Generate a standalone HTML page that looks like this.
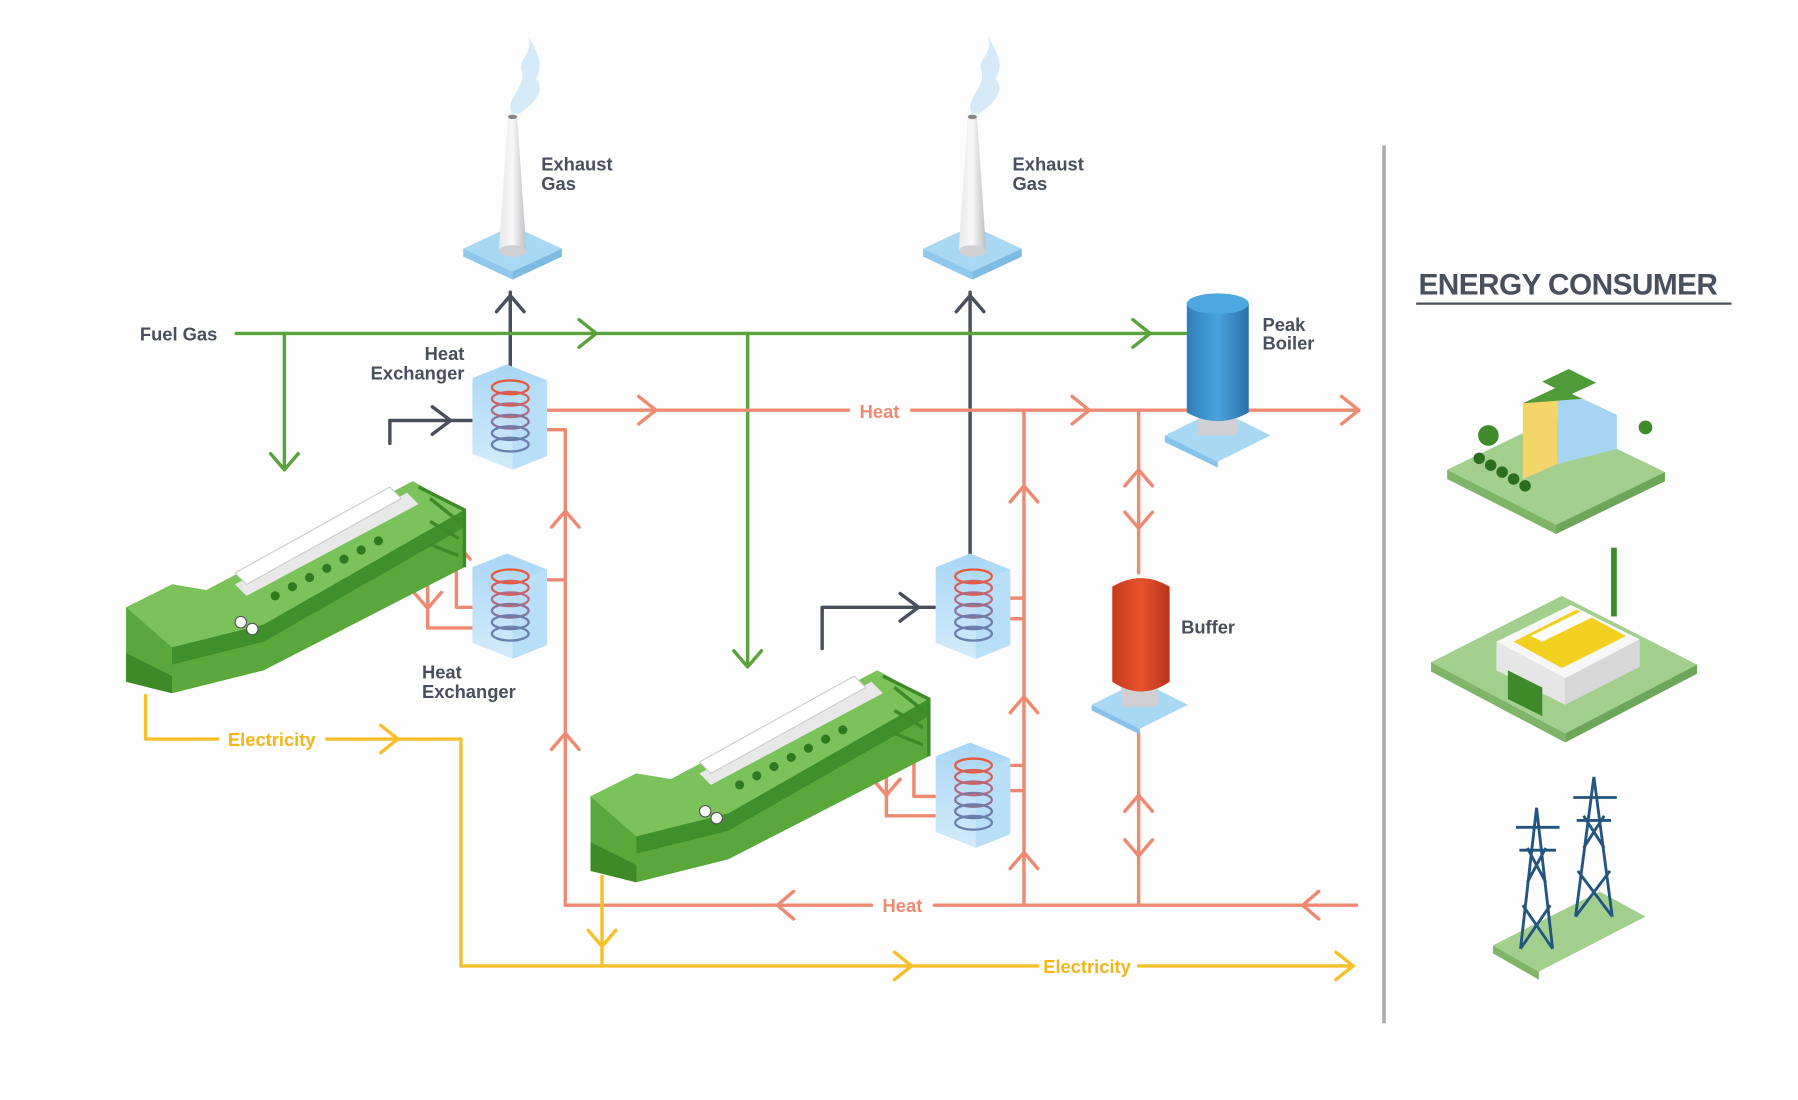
<!DOCTYPE html>
<html><head><meta charset="utf-8"><style>
html,body{margin:0;padding:0;background:#fdfdfd;}
svg{display:block;}
text{font-family:"Liberation Sans",sans-serif;}
.lbl{fill:#4a4f5c;font-size:16px;font-weight:bold;}
</style></head><body>
<svg width="1798" height="1100" viewBox="0 0 1568 960" preserveAspectRatio="none" xmlns="http://www.w3.org/2000/svg">
<rect width="1568" height="960" fill="#fdfdfd"/>
<defs>
<linearGradient id="hx" x1="0" y1="0" x2="0" y2="1"><stop offset="0" stop-color="#a9d6f5"/><stop offset="1" stop-color="#d3ebfb"/></linearGradient>
<linearGradient id="blu" x1="0" y1="0" x2="1" y2="0"><stop offset="0" stop-color="#2f7fb9"/><stop offset=".5" stop-color="#4aa3dc"/><stop offset="1" stop-color="#2a6fa5"/></linearGradient>
<linearGradient id="red" x1="0" y1="0" x2="1" y2="0"><stop offset="0" stop-color="#c73a1e"/><stop offset=".5" stop-color="#e8532e"/><stop offset="1" stop-color="#b8341a"/></linearGradient>
<linearGradient id="chim" x1="0" y1="0" x2="1" y2="0"><stop offset="0" stop-color="#e8e8ea"/><stop offset=".5" stop-color="#f7f7f7"/><stop offset="1" stop-color="#bdbec2"/></linearGradient>
<g id="hxu">
<polygon points="0,12 30,0 65,14 65,80 35,92 0,78" fill="url(#hx)"/>
<polygon points="35,92 65,80 65,14 35,26" fill="#b9def7"/>
<g fill="none" stroke-width="2">
<ellipse cx="33" cy="20" rx="16" ry="6" stroke="#e8583b"/>
<ellipse cx="33" cy="30" rx="16" ry="6" stroke="#d4605a"/>
<ellipse cx="33" cy="40" rx="16" ry="6" stroke="#b66a7e"/>
<ellipse cx="33" cy="50" rx="16" ry="6" stroke="#8a7398"/>
<ellipse cx="33" cy="60" rx="16" ry="6" stroke="#6d7aa5"/>
<ellipse cx="33" cy="70" rx="16" ry="6" stroke="#6a7fab"/>
</g></g>
<g id="chimney">
<polygon points="-43,0 0,-20 43,0 0,20" fill="#a9d8f3"/>
<polygon points="-43,0 0,20 0,27 -43,7" fill="#8fc8ec"/>
<polygon points="43,0 0,20 0,27 43,7" fill="#7dbbe3"/>
<polygon points="-12,2 -4,-115 4,-115 12,2" fill="url(#chim)"/>
<ellipse cx="0" cy="2" rx="12" ry="5" fill="#d0d0d4"/>
<ellipse cx="0" cy="-115" rx="4" ry="2" fill="#888"/>
<path d="M0,-118 C-8,-130 12,-140 8,-155 C4,-165 18,-170 14,-185 C22,-170 28,-160 20,-148 C30,-140 18,-125 6,-118Z" fill="#cfe8f8" opacity=".9"/>
</g>
<g id="engine">
<polygon points="0,115 0,75 40,55 70,60 250,-35 295,-10 295,40 120,130 40,150 0,140" fill="#5aa83c"/>
<polygon points="0,75 40,55 70,60 250,-35 295,-10 120,90 40,110" fill="#7cc25b"/>
<polygon points="40,110 120,90 295,-10 295,5 120,105 40,125" fill="#3f8f2a"/>
<polygon points="95,55 245,-25 255,-15 105,65" fill="#e8e8e8"/>
<polygon points="95,45 230,-30 240,-20 105,55" fill="#ffffff" stroke="#ccc"/>
<g fill="#2f7a1f"><circle cx="130" cy="65" r="4"/><circle cx="145" cy="57" r="4"/><circle cx="160" cy="49" r="4"/><circle cx="175" cy="41" r="4"/><circle cx="190" cy="33" r="4"/><circle cx="205" cy="25" r="4"/><circle cx="220" cy="17" r="4"/></g>
<circle cx="100" cy="88" r="5" fill="#fff" stroke="#555"/><circle cx="110" cy="94" r="5" fill="#fff" stroke="#555"/>
<g fill="none" stroke="#3f8a28" stroke-width="3"><path d="M255,-30 L295,-10 L295,40 M265,-20 L290,0 M265,0 L290,15 M265,20 L290,30"/></g>
<polygon points="0,115 40,135 40,150 0,140" fill="#3e8a26"/>
</g>
</defs>

<line x1="1207" y1="127" x2="1207" y2="893" stroke="#a8a8ac" stroke-width="3"/>
<text x="1237" y="257" font-size="26" font-weight="bold" fill="#4a4f5c" letter-spacing="-0.5">ENERGY CONSUMER</text>
<line x1="1235" y1="265" x2="1510" y2="265" stroke="#4a4f5c" stroke-width="2"/>

<use href="#chimney" x="447" y="217"/>
<use href="#chimney" x="848" y="217"/>

<g fill="none" stroke-linecap="round" stroke-linejoin="round">
<g stroke="#4a4f5c" stroke-width="3">
<path d="M445,320 V255 M433,272 L445,258 L457,272"/>
<path d="M846,485 V255 M834,272 L846,258 L858,272"/>
<path d="M340,387 V367 H415 M377,355 L393,367 L377,379"/>
<path d="M717,566 V530 H815 M785,518 L801,530 L785,542"/>
</g>
<g stroke="#5aa33c" stroke-width="3">
<path d="M206,291 H1035"/>
<path d="M505,279 L520,291 L505,303 M988,279 L1003,291 L988,303"/>
<path d="M248,291 V410 M236,396 L248,410 L260,396"/>
<path d="M652,291 V582 M640,568 L652,582 L664,568"/>
</g>
<g stroke="#ee8a72" stroke-width="3">
<path d="M477,358 H740 M795,358 H1185"/>
<path d="M557,346 L572,358 L557,370 M935,346 L950,358 L935,370 M1170,346 L1185,358 L1170,370"/>
<path d="M476,375 H493 V790 H760 M815,790 H1183 M476,506 H493"/>
<path d="M481,460 L493,446 L505,460 M481,654 L493,640 L505,654"/>
<path d="M692,778 L678,790 L692,802 M1150,778 L1136,790 L1150,802"/>
<path d="M893,358 V790 M881,438 L893,424 L905,438 M881,622 L893,608 L905,622 M881,758 L893,744 L905,758"/>
<path d="M880,522 H893 M880,540 H893 M880,668 H893 M880,690 H893"/>
<path d="M993,358 V500 M993,640 V790"/>
<path d="M981,424 L993,410 L1005,424 M981,447 L993,461 L1005,447 M981,708 L993,694 L1005,708 M981,733 L993,747 L1005,733"/>
<path d="M373,465 V548 H415 M361,517 L373,531 L385,517 M398,458 V530 H415 M386,488 L398,474 L410,488"/>
<path d="M773,610 V712 H815 M761,680 L773,694 L785,680 M797,625 V695 H815 M785,650 L797,636 L809,650"/>
</g>
<g stroke="#f6c02b" stroke-width="3">
<path d="M127,607 V645 H190 M285,645 H402 V843 H905 M993,843 H1180"/>
<path d="M332,633 L347,645 L332,657 M780,831 L795,843 L780,855 M1165,831 L1180,843 L1165,855"/>
<path d="M525,765 V843 M513,812 L525,826 L537,812"/>
</g>
</g>

<text x="767" y="365" font-size="16" fill="#ee8a72" text-anchor="middle" font-weight="bold">Heat</text>
<text x="787" y="796" font-size="16" fill="#ee8a72" text-anchor="middle" font-weight="bold">Heat</text>
<text x="237" y="651" font-size="16" fill="#f2b51a" text-anchor="middle" font-weight="bold">Electricity</text>
<text x="948" y="849" font-size="16" fill="#f2b51a" text-anchor="middle" font-weight="bold">Electricity</text>

<use href="#hxu" x="412" y="318"/>
<use href="#hxu" x="412" y="483"/>
<use href="#hxu" x="816" y="483"/>
<use href="#hxu" x="816" y="648"/>

<use href="#engine" x="110" y="455"/>
<use href="#engine" x="515" y="620"/>

<polygon points="1016,380 1062,357 1108,380 1062,403" fill="#a9d8f3"/>
<polygon points="1016,380 1062,403 1062,408 1016,386" fill="#86c3ea"/>
<rect x="1045" y="355" width="34" height="25" fill="#d0d0d4"/>
<path d="M1035,265 Q1062,250 1089,265 V360 Q1062,375 1035,360Z" fill="url(#blu)"/>
<ellipse cx="1062" cy="265" rx="27" ry="9" fill="#4ea8e0"/>
<polygon points="952,615 994,594 1036,615 994,636" fill="#a9d8f3"/>
<polygon points="952,615 994,636 994,641 952,620" fill="#86c3ea"/>
<rect x="978" y="595" width="32" height="22" fill="#d0d0d4"/>
<path d="M970,512 Q995,497 1020,512 V595 Q995,612 970,595Z" fill="url(#red)"/>

<g class="lbl">
<text x="472" y="149">Exhaust</text><text x="472" y="166">Gas</text>
<text x="883" y="149">Exhaust</text><text x="883" y="166">Gas</text>
<text x="405" y="314" text-anchor="end">Heat</text><text x="405" y="331" text-anchor="end">Exchanger</text>
<text x="368" y="592">Heat</text><text x="368" y="609">Exchanger</text>
<text x="1101" y="289">Peak</text><text x="1101" y="305">Boiler</text>
<text x="1030" y="553">Buffer</text>
<text x="122" y="297">Fuel Gas</text>
</g>

<!-- building 1 -->
<polygon points="1262,410 1355,365 1452,412 1357,458" fill="#a3cf8e"/>
<polygon points="1262,410 1357,458 1357,466 1262,418" fill="#7fb469"/>
<polygon points="1357,458 1452,412 1452,420 1357,466" fill="#6ea55a"/>
<polygon points="1328,352 1358,338 1358,405 1328,418" fill="#f4d56a"/>
<polygon points="1358,338 1410,362 1410,392 1358,405" fill="#a6d4f1"/>
<polygon points="1328,352 1358,338 1410,362 1380,348" fill="#4f9b3a"/>
<polygon points="1345,333 1368,322 1392,334 1368,345" fill="#4f9b3a"/>
<circle cx="1298" cy="380" r="9" fill="#3f8a2a"/><circle cx="1435" cy="373" r="6" fill="#3f8a2a"/>
<g fill="#2d6d1f"><circle cx="1290" cy="400" r="5"/><circle cx="1300" cy="406" r="5"/><circle cx="1310" cy="412" r="5"/><circle cx="1320" cy="418" r="5"/><circle cx="1330" cy="424" r="5"/></g>
<!-- factory -->
<polygon points="1248,578 1362,520 1480,580 1365,640" fill="#a3cf8e"/>
<polygon points="1248,578 1365,640 1365,648 1248,586" fill="#7fb469"/>
<polygon points="1365,640 1480,580 1480,588 1365,648" fill="#6ea55a"/>
<polygon points="1305,560 1370,528 1430,558 1365,592" fill="#f7f7f7"/>
<polygon points="1320,560 1375,532 1418,555 1362,583" fill="#f1d020"/>
<polygon points="1335,555 1380,533 1390,538 1345,560" fill="#fff"/>
<polygon points="1305,560 1365,592 1365,615 1305,585" fill="#e6e6e6"/>
<polygon points="1365,592 1430,558 1430,582 1365,615" fill="#d7d7d7"/>
<polygon points="1315,585 1345,600 1345,625 1315,610" fill="#3e8a2a"/>
<rect x="1405" y="478" width="5" height="60" fill="#3e8a2a"/>
<!-- towers -->
<polygon points="1302,825 1395,778 1435,800 1342,848" fill="#a3cf8e"/>
<polygon points="1302,825 1342,848 1342,855 1302,832" fill="#7fb469"/>
<g stroke="#24557f" stroke-width="2.5" fill="none">
<path d="M1326,828 L1340,705 L1354,828 M1326,828 L1352,790 M1354,828 L1328,790 M1332,770 L1348,740 M1348,770 L1332,740 M1322,722 H1360 M1325,742 H1357"/>
<path d="M1374,800 L1390,678 L1406,800 M1374,800 L1404,760 M1406,800 L1376,760 M1381,740 L1399,712 M1399,740 L1381,712 M1372,696 H1410 M1375,716 H1405"/>
</g>
</svg>
</body></html>
